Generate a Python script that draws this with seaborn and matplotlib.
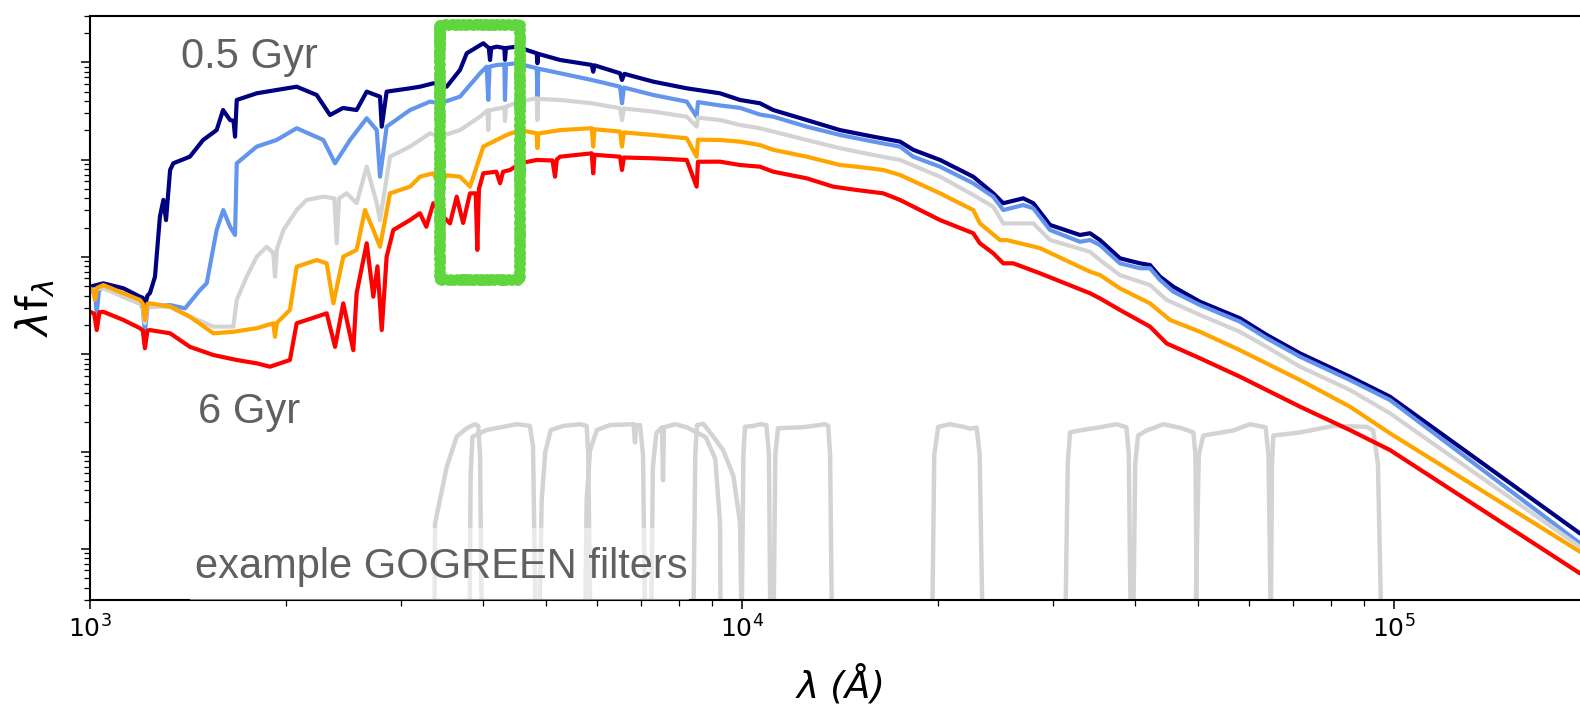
import numpy as np
import matplotlib
matplotlib.use("Agg")
import matplotlib.pyplot as plt
from matplotlib.patches import Rectangle
from matplotlib.ticker import LogLocator, NullFormatter
import seaborn as sns

# ---------------- data (wavelength in Angstrom, lambda*f_lambda in arbitrary units) ----------------
wave_05 = [1000, 1048, 1125, 1193, 1205, 1214, 1225, 1236, 1258, 1280, 1296, 1308, 1327, 1342, 1423, 1491,
           1564, 1600, 1640, 1660, 1669, 1679, 1802, 1933, 2075, 2227, 2334, 2443, 2564, 2657, 2785,
           2802, 2851, 3096, 3207, 3362, 3524, 3694, 3783, 4011, 4090, 4107, 4125, 4205, 4320, 4330,
           4345, 4513, 4844, 4855, 4870, 5260, 5883, 5913, 5940, 6500, 6546, 6600, 7312, 8227, 9253,
           9929, 10656, 11167, 12566, 14134, 15903, 17473, 18311, 20130, 22630, 24290, 25160, 27000,
           27980, 29680, 32990, 34180, 35400, 37990, 40780, 42250, 43770, 45870, 50410, 58050, 63790,
           71760, 85610, 98600, 192900]
flux_05 = [0.00494, 0.00535, 0.00476, 0.00390, 0.00380, 0.00308, 0.00400, 0.00426, 0.00626, 0.0259, 0.0385,
           0.0239, 0.0782, 0.0916, 0.1071, 0.159, 0.201, 0.323, 0.255, 0.25, 0.172, 0.410, 0.480, 0.519,
           0.561, 0.461, 0.287, 0.339, 0.323, 0.499, 0.443, 0.218, 0.499, 0.540, 0.561, 0.608, 0.561,
           0.834, 1.237, 1.568, 1.40, 1.056, 1.40, 1.446, 1.40, 1.06, 1.40, 1.446, 1.237, 0.977, 1.22,
           1.056, 0.938, 0.80, 0.93, 0.771, 0.658, 0.76, 0.632, 0.540, 0.480, 0.410, 0.379, 0.323, 0.255,
           0.201, 0.172, 0.153, 0.126, 0.0991, 0.0667, 0.0450, 0.0356, 0.0400, 0.0356, 0.0213, 0.0168,
           0.0175, 0.0149, 0.00968, 0.00859, 0.00825, 0.00626, 0.00494, 0.00346, 0.00234, 0.00158,
           0.00102, 0.000587, 0.000366, 0.0000144]

wave_1 = [1000, 1018, 1024, 1032, 1048, 1125, 1193, 1205, 1214, 1225, 1236, 1327, 1399, 1475, 1510, 1564,
          1601, 1640, 1669, 1679, 1802, 1933, 2075, 2280, 2376, 2505, 2657, 2753, 2785, 2851, 3096, 3322,
          3441, 3694, 3965, 4059, 4082, 4100, 4205, 4320, 4330, 4345, 4513, 4844, 4855, 4870, 5260, 5883,
          6500, 6546, 6590, 7312, 8227, 8520, 8560, 9253, 9929, 10656, 11167, 12566, 14134, 15903, 17473,
          18311, 20130, 22630, 24290, 25160, 27000, 27980, 29680, 32990, 34180, 35400, 37990, 40780,
          42250, 43770, 45870, 50410, 58050, 63790, 71760, 85610, 98600, 192900]
flux_1 = [0.00457, 0.00420, 0.00263, 0.00450, 0.00494, 0.00390, 0.00333, 0.00300, 0.00170, 0.00300,
          0.00308, 0.00320, 0.00296, 0.00457, 0.00535, 0.0189, 0.0303, 0.0204, 0.0168, 0.0916, 0.136,
          0.159, 0.210, 0.159, 0.0916, 0.159, 0.266, 0.201, 0.0667, 0.218, 0.323, 0.394, 0.379, 0.443,
          0.771, 0.901, 0.410, 0.90, 0.938, 0.95, 0.410, 0.95, 0.977, 0.868, 0.443, 0.86, 0.771, 0.658,
          0.561, 0.379, 0.55, 0.461, 0.394, 0.276, 0.39, 0.36, 0.34, 0.29, 0.276, 0.218, 0.179, 0.153,
          0.136, 0.107, 0.0845, 0.0571, 0.0416, 0.0303, 0.0341, 0.0316, 0.0189, 0.0143, 0.0149, 0.01325,
          0.00859, 0.00764, 0.00764, 0.00579, 0.00439, 0.00320, 0.00216, 0.00146, 0.000943, 0.000543,
          0.000338, 0.0000114]

wave_2 = [1000, 1048, 1125, 1193, 1205, 1214, 1225, 1236, 1327, 1423, 1546, 1659, 1679, 1739, 1802, 1866,
          1910, 1922, 1935, 1980, 2075, 2149, 2280, 2370, 2390, 2410, 2475, 2564, 2657, 2753, 2785, 2885,
          3096, 3322, 3441, 3694, 3965, 4070, 4082, 4095, 4320, 4330, 4345, 4567, 4844, 4855, 4870, 5260,
          5883, 6500, 6546, 6590, 7312, 8227, 8520, 8560, 9253, 9929, 10656, 11167, 12566, 14134, 15903,
          17473, 20130, 22630, 24290, 25160, 27980, 29680, 34180, 35400, 37990, 42250, 44810, 50410,
          58050, 63790, 71760, 85610, 98600, 192900]
flux_2 = [0.00457, 0.00476, 0.00390, 0.00333, 0.00310, 0.00208, 0.00310, 0.00308, 0.00308, 0.00243,
          0.00192, 0.00192, 0.00361, 0.00626, 0.01005, 0.0127, 0.0110, 0.00626, 0.0120, 0.0189, 0.0303,
          0.0385, 0.0416, 0.040, 0.0138, 0.040, 0.0450, 0.0356, 0.0845, 0.0356, 0.0239, 0.1071, 0.136,
          0.186, 0.172, 0.201, 0.276, 0.32, 0.201, 0.32, 0.345, 0.25, 0.35, 0.394, 0.427, 0.255, 0.42,
          0.410, 0.379, 0.337, 0.255, 0.335, 0.311, 0.276, 0.218, 0.27, 0.255, 0.227, 0.210, 0.194, 0.159,
          0.131, 0.1115, 0.0991, 0.0667, 0.0433, 0.0328, 0.0221, 0.0221, 0.0149, 0.0113, 0.00929, 0.0065,
          0.00514, 0.00361, 0.00253, 0.00170, 0.00119, 0.000744, 0.000429, 0.000247, 0.0000105]

wave_4 = [1000, 1012, 1018, 1025, 1048, 1125, 1193, 1205, 1214, 1225, 1236, 1327, 1423, 1546, 1659, 1802,
          1910, 1922, 1935, 2026, 2075, 2227, 2307, 2362, 2446, 2564, 2641, 2720, 2785, 2885, 3096, 3207,
          3362, 3441, 3520, 3694, 3827, 4011, 4356, 4567, 4844, 4855, 4870, 5260, 5883, 5913, 5940, 6500,
          6546, 6590, 7312, 8227, 8520, 8560, 9253, 9929, 10656, 11167, 12566, 14134, 14995, 16474, 17473,
          20130, 22630, 23170, 24870, 25470, 28650, 34180, 35400, 37990, 42250, 45340, 50410, 58050,
          71760, 85610, 98600, 192900]
flux_4 = [0.00476, 0.00440, 0.00361, 0.00480, 0.00514, 0.00423, 0.00361, 0.00330, 0.00225, 0.00330,
          0.00333, 0.00308, 0.00243, 0.00164, 0.00170, 0.00185, 0.00208, 0.00151, 0.00210, 0.00285,
          0.00793, 0.00929, 0.00859, 0.00333, 0.01005, 0.0118, 0.0303, 0.0189, 0.0127, 0.0450, 0.0527,
          0.0667, 0.0723, 0.0527, 0.0690, 0.0667, 0.0527, 0.136, 0.179, 0.201, 0.186, 0.131, 0.185, 0.201,
          0.210, 0.136, 0.205, 0.194, 0.136, 0.19, 0.179, 0.1656, 0.107, 0.16, 0.159, 0.153, 0.141, 0.126,
          0.1071, 0.088, 0.0845, 0.0782, 0.0695, 0.0450, 0.0303, 0.0221, 0.0149, 0.0149, 0.0123, 0.00705,
          0.00652, 0.00475, 0.00333, 0.00225, 0.00170, 0.00110, 0.000543, 0.000289, 0.000154, 0.00000934]

wave_6 = [1000, 1015, 1024, 1034, 1048, 1125, 1193, 1205, 1214, 1225, 1236, 1327, 1423, 1546, 1679, 1802,
          1888, 2026, 2075, 2227, 2307, 2376, 2446, 2534, 2564, 2657, 2720, 2760, 2802, 2851, 2919, 3096,
          3207, 3280, 3362, 3482, 3566, 3651, 3735, 3827, 3905, 3927, 3950, 4011, 4200, 4256, 4300, 4409,
          4567, 4844, 5120, 5167, 5200, 5260, 5883, 5913, 5940, 6500, 6546, 6590, 7312, 8227, 8520, 8560,
          9253, 9929, 10656, 11167, 12566, 13804, 14995, 16474, 17473, 20130, 22630, 23170, 24290, 25160,
          26070, 28650, 34180, 35400, 37990, 42250, 44810, 50410, 58050, 71760, 85610, 98600, 192900]
flux_6 = [0.00273, 0.00260, 0.00177, 0.00270, 0.00273, 0.00225, 0.00185, 0.00175, 0.00115, 0.00175,
          0.00177, 0.00164, 0.00119, 0.000981, 0.000872, 0.000806, 0.000744, 0.000872, 0.00208, 0.00243,
          0.00263, 0.00119, 0.00333, 0.00110, 0.00423, 0.0138, 0.00390, 0.0080, 0.00177, 0.01005, 0.0189,
          0.0239, 0.0281, 0.0204, 0.0356, 0.0259, 0.0221, 0.0416, 0.0223, 0.0450, 0.045, 0.0118, 0.050,
          0.0723, 0.075, 0.0571, 0.075, 0.0782, 0.0916, 0.0991, 0.098, 0.0667, 0.100, 0.1071, 0.116,
          0.0723, 0.112, 0.1071, 0.0782, 0.105, 0.1031, 0.0991, 0.0527, 0.095, 0.0952, 0.0880, 0.0845,
          0.0751, 0.0642, 0.0527, 0.0487, 0.0450, 0.0385, 0.0239, 0.0175, 0.0138, 0.0109, 0.00859,
          0.00859, 0.00678, 0.00423, 0.00375, 0.00285, 0.00192, 0.00129, 0.000908, 0.000587, 0.000289,
          0.000166, 0.0001036, 0.0000056]

ages = ["0.5 Gyr", "1 Gyr", "2 Gyr", "4 Gyr", "6 Gyr"]
age_colors = ["navy", "cornflowerblue", "lightgray", "orange", "red"]

# filter transmission curves (relative), peak placed at FILTER_PEAK on the flux axis
FILTER_PEAK = 1.87e-4
filt_u_w = [3375, 3382, 3441, 3524, 3651, 3783, 3895, 3940, 3965, 3992]
filt_u_t = [0.005, 0.098, 0.17, 0.37, 0.76, 0.93, 1.02, 0.98, 0.5, 0.005]
filt_g_w = [3820, 3835, 3860, 4059, 4304, 4513, 4729, 4781, 4830]
filt_g_t = [0.005, 0.3, 0.76, 0.89, 0.96, 1.02, 0.98, 0.6, 0.005]
filt_r_w = [4880, 4930, 4990, 5090, 5320, 5643, 5778, 5810, 5860]
filt_r_t = [0.005, 0.17, 0.52, 0.89, 0.98, 1.02, 0.98, 0.5, 0.005]
filt_i_w = [5740, 5778, 5847, 5990, 6274, 6820, 6853, 6880, 6976, 7050, 7110]
filt_i_t = [0.005, 0.17, 0.55, 0.89, 1.0, 1.02, 0.66, 1.0, 1.0, 0.5, 0.005]
filt_z1_w = [7250, 7300, 7390, 7540, 7566, 7590, 7900, 8227, 8800, 9100, 9253, 9280]
filt_z1_t = [0.005, 0.37, 0.83, 0.95, 0.27, 0.95, 1.02, 0.95, 0.75, 0.45, 0.1, 0.005]
filt_z2_w = [8413, 8480, 8531, 8724, 9036, 9360, 9700, 9930, 10000]
filt_z2_t = [0.005, 0.5, 1.0, 1.03, 0.76, 0.55, 0.3, 0.1, 0.005]
filt_Y_w = [9980, 10050, 10106, 10400, 10656, 10900, 11000, 11060]
filt_Y_t = [0.005, 0.5, 0.96, 0.98, 1.02, 1.0, 0.5, 0.005]
filt_J_w = [11170, 11250, 11357, 12420, 13410, 13560, 13650, 13750]
filt_J_t = [0.005, 0.5, 0.93, 0.95, 1.02, 0.98, 0.5, 0.005]
filt_K_w = [19560, 19720, 20000, 20840, 21850, 22360, 22900, 23150, 23420]
filt_K_t = [0.005, 0.5, 0.96, 1.02, 0.96, 0.92, 0.94, 0.5, 0.005]
filt_ch1_w = [31290, 31600, 31850, 32610, 35400, 37550, 38880, 39200, 39500]
filt_ch1_t = [0.005, 0.4, 0.84, 0.87, 0.95, 1.02, 0.95, 0.5, 0.005]
filt_ch2_w = [39780, 40100, 40500, 41760, 44290, 47220, 49240, 49600, 49900]
filt_ch2_t = [0.005, 0.4, 0.78, 0.88, 1.02, 0.93, 0.84, 0.5, 0.005]
filt_ch3_w = [49500, 50200, 51000, 56700, 60120, 63560, 64200, 64800]
filt_ch3_t = [0.005, 0.5, 0.78, 0.88, 1.02, 0.95, 0.5, 0.005]
filt_ch4_w = [64700, 65000, 65300, 71760, 80700, 90800, 92900, 94500, 95800]
filt_ch4_t = [0.005, 0.4, 0.78, 0.84, 0.98, 0.96, 0.88, 0.4, 0.005]

filters = [(filt_u_w, filt_u_t), (filt_g_w, filt_g_t), (filt_r_w, filt_r_t), (filt_i_w, filt_i_t),
           (filt_z1_w, filt_z1_t), (filt_z2_w, filt_z2_t), (filt_Y_w, filt_Y_t), (filt_J_w, filt_J_t),
           (filt_K_w, filt_K_t), (filt_ch1_w, filt_ch1_t), (filt_ch2_w, filt_ch2_t),
           (filt_ch3_w, filt_ch3_t), (filt_ch4_w, filt_ch4_t)]

# ---------------- style ----------------
sns.set_theme(style="ticks", rc={
    "axes.edgecolor": "black", "xtick.color": "black", "ytick.color": "black",
    "text.color": "black", "axes.labelcolor": "black",
})
plt.rcParams["font.family"] = ["DejaVu Sans"]
plt.rcParams["mathtext.fontset"] = "dejavusans"

W, H = 1580, 705
fig = plt.figure(figsize=(W / 100, H / 100), dpi=100)
ax = fig.add_axes([90 / W, 1 - 600 / H, 1490 / W, 584.3 / H])
ax.set_xscale("log")
ax.set_yscale("log")

for fw, ft in filters:
    sns.lineplot(x=fw, y=np.array(ft) * FILTER_PEAK, ax=ax, color="lightgray", lw=3.2,
                 sort=False, estimator=None, legend=False, zorder=1)

spectra = [(wave_05, flux_05), (wave_1, flux_1), (wave_2, flux_2), (wave_4, flux_4), (wave_6, flux_6)]
for (w, f), c in zip(spectra, age_colors):
    sns.lineplot(x=w, y=f, ax=ax, color=c, lw=3.0, sort=False, estimator=None,
                 legend=False, zorder=2)

ax.set_xlim(1000, 1.929e5)
ax.set_ylim(2.98e-6, 3.01)

ax.xaxis.set_major_locator(LogLocator(base=10, numticks=20))
ax.xaxis.set_minor_locator(LogLocator(base=10, subs=np.arange(2, 10), numticks=40))
ax.xaxis.set_minor_formatter(NullFormatter())
ax.yaxis.set_major_locator(LogLocator(base=10, numticks=20))
ax.yaxis.set_minor_locator(LogLocator(base=10, subs=np.arange(2, 10), numticks=80))
ax.yaxis.set_major_formatter(NullFormatter())
ax.yaxis.set_minor_formatter(NullFormatter())

ax.tick_params(which="major", length=6.8, width=1.1, direction="out", labelsize=18, pad=4)
ax.tick_params(which="minor", length=4.0, width=0.9, direction="out")
for s in ["top", "left", "bottom"]:
    ax.spines[s].set_linewidth(1.5)
    ax.spines[s].set_visible(True)
ax.spines["right"].set_visible(False)

ax.set_xlabel("λ (Å)", fontsize=27, fontstyle="italic")
ax.xaxis.set_label_coords(0.504, -0.112)
ax.set_ylabel(r"$\lambda\mathrm{f}_\lambda$", fontsize=30)
ax.yaxis.set_label_coords(-0.022, 0.5)

gray = "#606060"
ax.text(0.0611, 0.9105, ages[0], transform=ax.transAxes, fontsize=30, color=gray,
        family="Liberation Sans", va="baseline", ha="left", zorder=6)
ax.text(0.0725, 0.3029, ages[-1], transform=ax.transAxes, fontsize=30, color=gray,
        family="Liberation Sans", va="baseline", ha="left", zorder=6)
ax.add_patch(Rectangle((0.067, 0.0), 0.335, 0.123, transform=ax.transAxes, facecolor="white",
                       alpha=0.5, edgecolor="none", zorder=3))
ax.text(0.0705, 0.0377, "example GOGREEN filters", transform=ax.transAxes, fontsize=30, color=gray,
        family="Liberation Sans", va="baseline", ha="left", zorder=6)

box = Rectangle((0.2349, 0.5477), 0.0537, 0.4364, transform=ax.transAxes, fill=False,
                edgecolor="#5fd63e", lw=7.0, zorder=5, clip_on=False, joinstyle="round",
                capstyle="round")
box.set_sketch_params(scale=1.2, length=6, randomness=2)
ax.add_patch(box)

fig.savefig("out.png", dpi=100)
